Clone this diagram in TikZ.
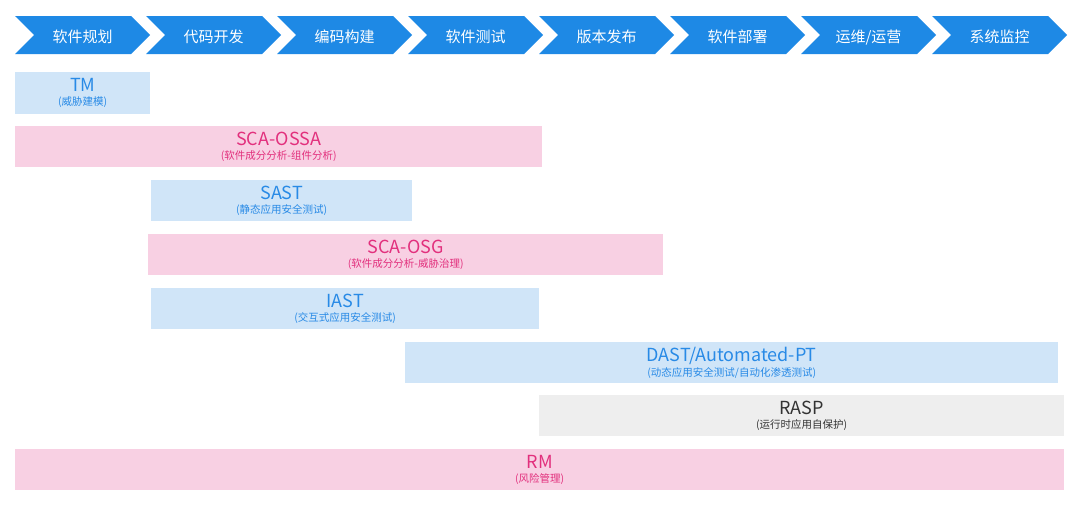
\documentclass[tikz,border=0pt]{standalone}
\usepackage{fontspec}
\setmainfont{Noto Sans CJK SC}
\usetikzlibrary{shapes.symbols,positioning}
\definecolor{stageblue}{RGB}{30,137,229}
\definecolor{toolblue}{RGB}{208,229,248}
\definecolor{toolpink}{RGB}{248,208,227}
\definecolor{toolgray}{RGB}{238,238,238}
\definecolor{txtblue}{RGB}{40,138,230}
\definecolor{txtpink}{RGB}{226,48,125}
\definecolor{txtgray}{RGB}{51,51,51}
\newcommand{\toolname}[2]{{\fontsize{18}{19}\selectfont #1}\\[2pt]{\fontsize{10.5}{12}\selectfont #2}}

\begin{document}
\begin{tikzpicture}[
    x=1pt, y=-1pt,
    stage/.style={signal, signal to=east, signal from=west, signal pointer angle=90,
                  fill=stageblue, text=white, inner sep=0pt, text depth=0pt,
                  minimum width=135pt, minimum height=38pt, font=\fontsize{15}{18}\selectfont},
    bar/.style={rectangle, anchor=north west, inner sep=0pt, align=center, minimum height=41pt},
    bluebar/.style={bar, fill=toolblue, text=txtblue},
    pinkbar/.style={bar, fill=toolpink, text=txtpink},
    graybar/.style={bar, fill=toolgray, text=txtgray}
]
\useasboundingbox (0,0) rectangle (1080,514);

% lifecycle stages
\foreach \lbl [count=\i from 0] in {软件规划,代码开发,编码构建,软件测试,版本发布,软件部署,运维/运营,系统监控}
  \node[stage] (s\i) at (82.5+131*\i,35) {\raisebox{-1.5pt}{\lbl}};

% tools
\node[bluebar, minimum width=135pt, minimum height=42pt] (tm) at (15,72) {\toolname{TM}{(威胁建模)}};
\node[pinkbar, minimum width=527pt] (ossa) at (15,126) {\toolname{SCA-OSSA}{(软件成分分析-组件分析)}};
\node[bluebar, minimum width=261pt] (sast) at (151,180) {\toolname{SAST}{(静态应用安全测试)}};
\node[pinkbar, minimum width=515pt] (osg) at (148,234) {\toolname{SCA-OSG}{(软件成分分析-威胁治理)}};
\node[bluebar, minimum width=388pt] (iast) at (151,288) {\toolname{IAST}{(交互式应用安全测试)}};
\node[bluebar, minimum width=653pt] (dast) at (405,342) {\toolname{DAST/Automated-PT}{(动态应用安全测试/自动化渗透测试)}};
\node[graybar, minimum width=525pt] (rasp) at (539,395) {\toolname{RASP}{(运行时应用自保护)}};
\node[pinkbar, minimum width=1049pt] (rm) at (15,449) {\toolname{RM}{(风险管理)}};
\end{tikzpicture}
\end{document}
